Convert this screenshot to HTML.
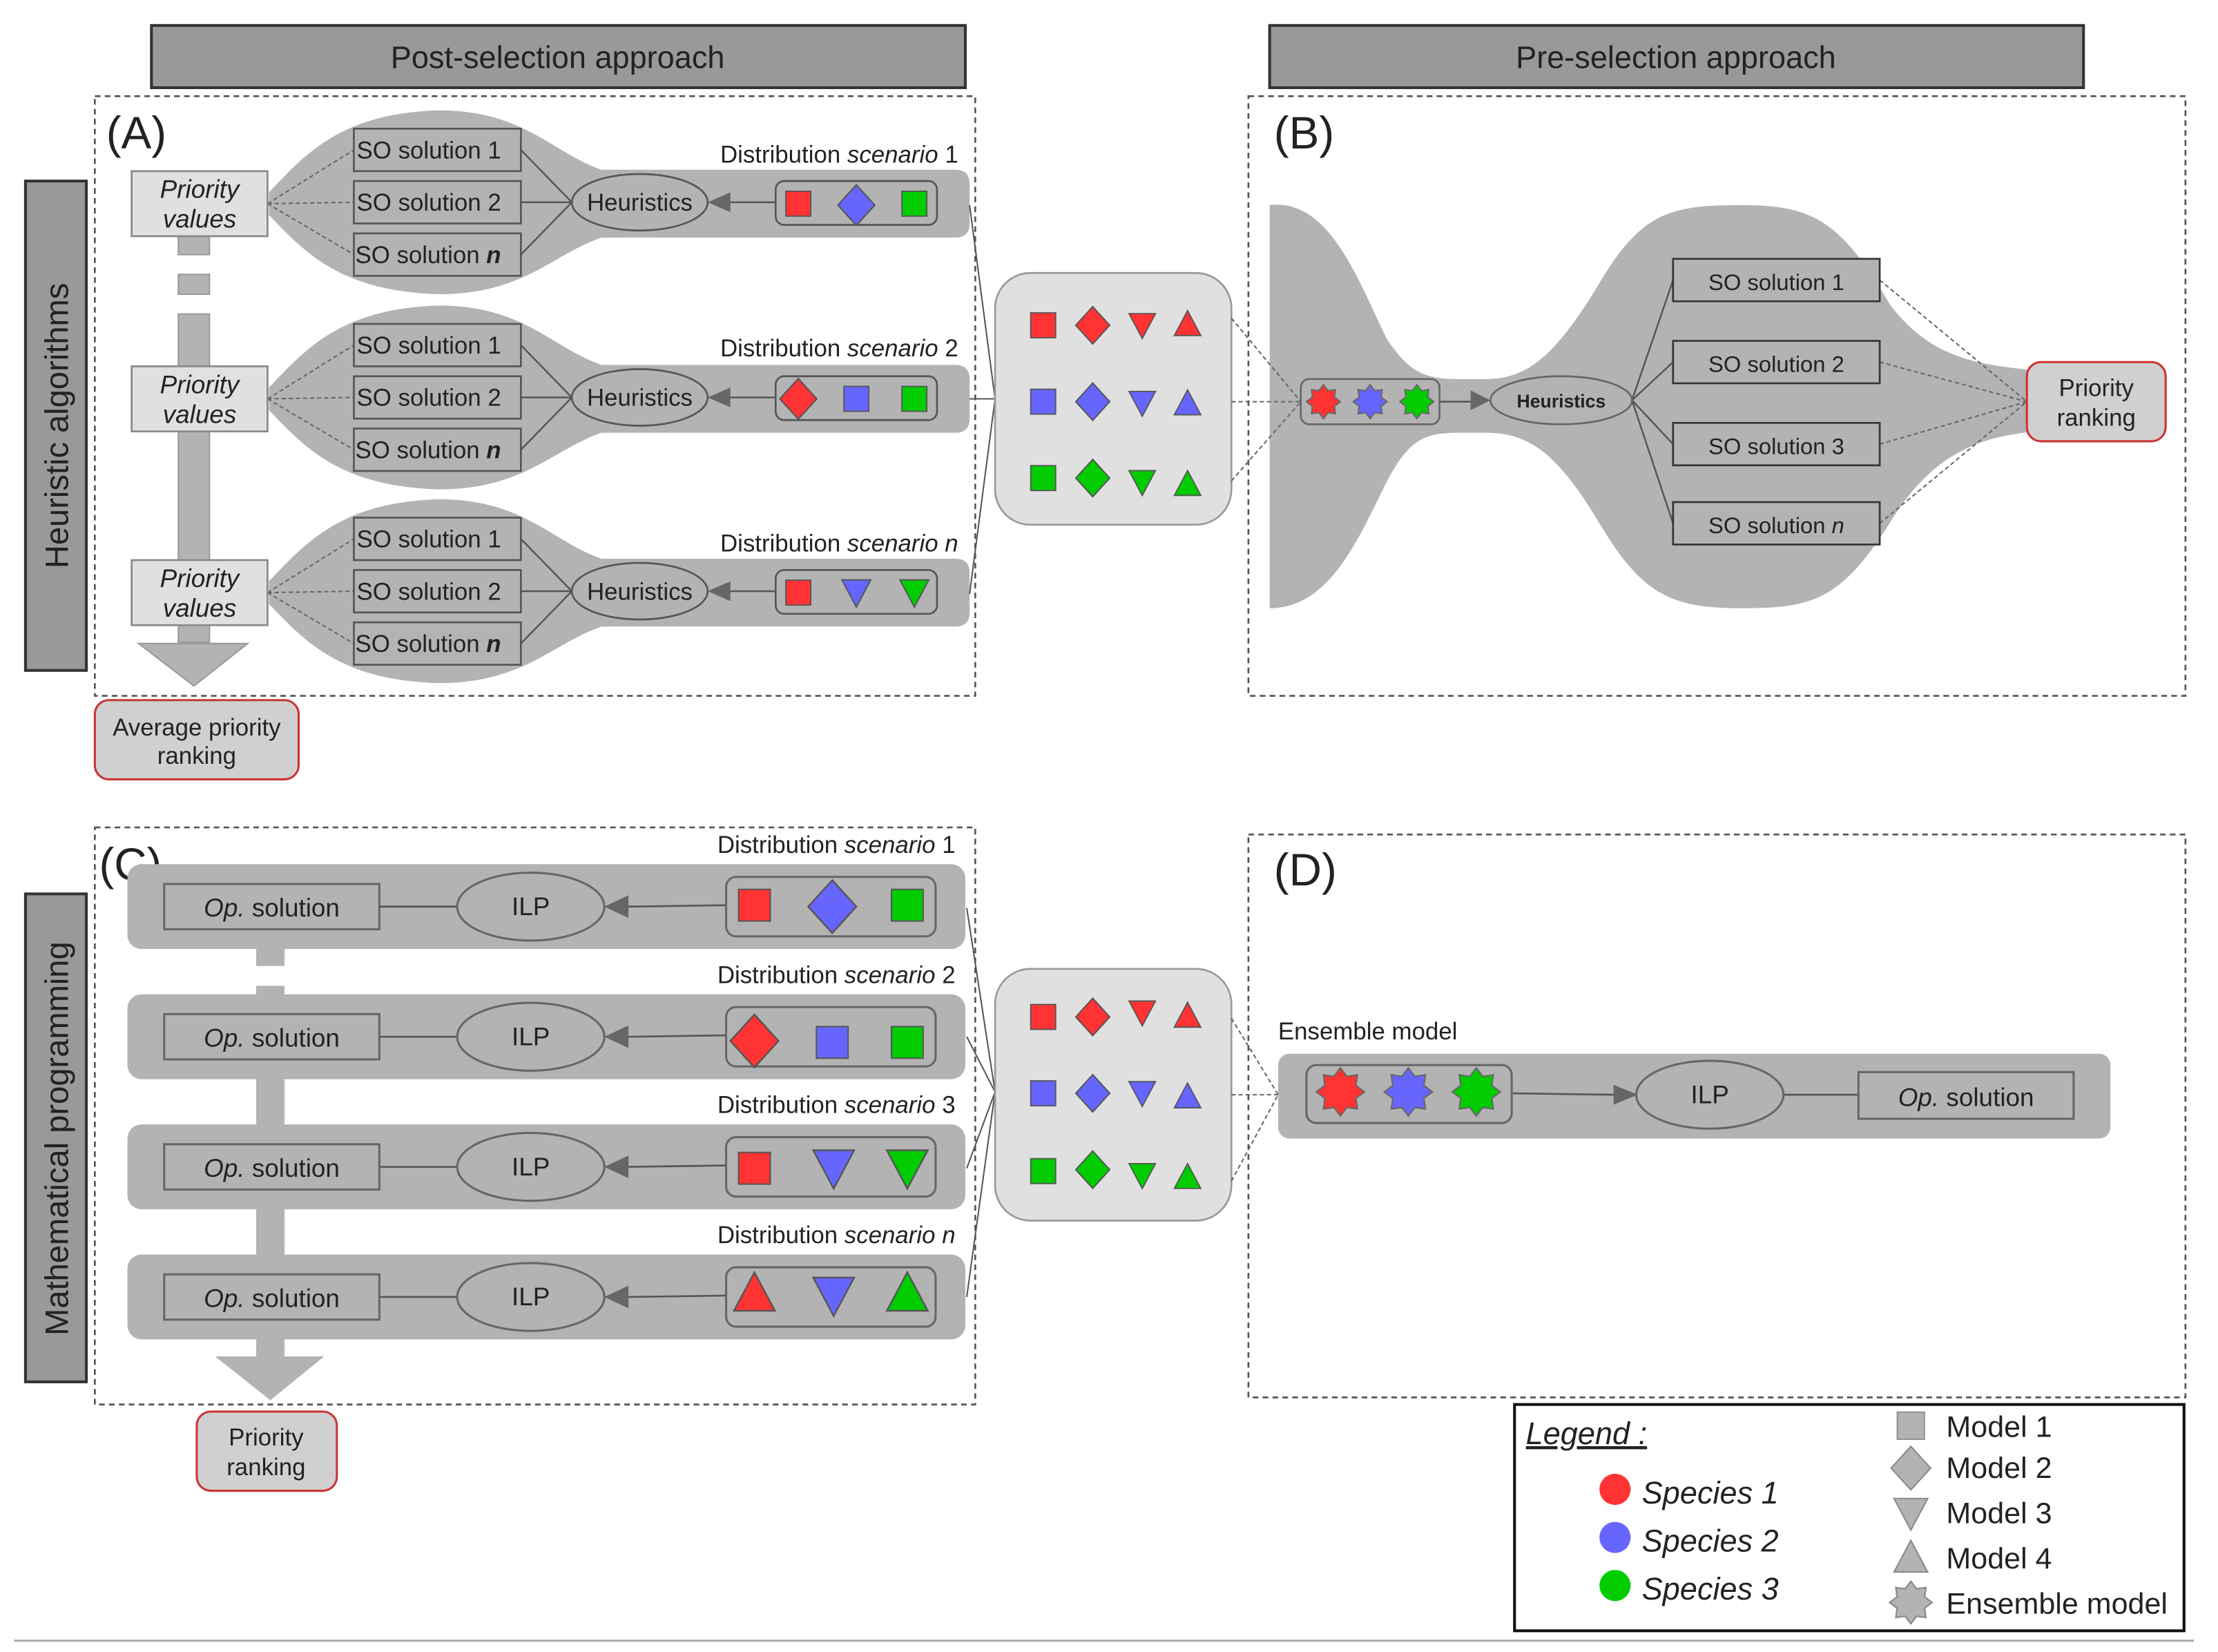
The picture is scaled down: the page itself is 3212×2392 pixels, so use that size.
<!DOCTYPE html>
<html><head><meta charset="utf-8"><style>
html,body{margin:0;padding:0;background:#fff;}
svg{display:block;}
text{font-family:"Liberation Sans",sans-serif;fill:#222;}
</style></head><body>
<svg width="3212" height="2392" viewBox="0 0 1567 1168" preserveAspectRatio="none" xmlns="http://www.w3.org/2000/svg">
<defs>
<rect id="sq" x="-0.8" y="-0.8" width="1.6" height="1.6"/>
<polygon id="dm" points="0,-1.1 1,0 0,1.1 -1,0"/>
<polygon id="td" points="-0.85,-0.75 0.85,-0.75 0,0.85"/>
<polygon id="tu" points="-0.85,0.75 0.85,0.75 0,-0.85"/>
<polygon id="st" points="0,-1 0.268,-0.647 0.707,-0.707 0.647,-0.268 1,0 0.647,0.268 0.707,0.707 0.268,0.647 0,1 -0.268,0.647 -0.707,0.707 -0.647,0.268 -1,0 -0.647,-0.268 -0.707,-0.707 -0.268,-0.647"/>
</defs>
<rect x="0" y="0" width="1567" height="1168" fill="#fff"/>

<rect x="107" y="18" width="575" height="44" fill="#999" stroke="#333" stroke-width="2"/>
<text x="394" y="48" font-size="22" text-anchor="middle">Post-selection approach</text>
<rect x="897" y="18" width="575" height="44" fill="#999" stroke="#333" stroke-width="2"/>
<text x="1184" y="48" font-size="22" text-anchor="middle">Pre-selection approach</text>

<rect x="18" y="128" width="43" height="346" fill="#999" stroke="#333" stroke-width="2"/>
<text transform="translate(48,301) rotate(-90)" font-size="23" text-anchor="middle">Heuristic algorithms</text>
<rect x="18" y="632" width="43" height="345" fill="#999" stroke="#333" stroke-width="2"/>
<text transform="translate(48,805) rotate(-90)" font-size="23" text-anchor="middle">Mathematical programming</text>

<g fill="none" stroke="#555" stroke-width="1.3" stroke-dasharray="4,3">
<rect x="67" y="68" width="622" height="424"/>
<rect x="882" y="68" width="662" height="424"/>
<rect x="67" y="585" width="622" height="408"/>
<rect x="882" y="590" width="662" height="398"/>
</g>
<text x="75" y="105" font-size="32">(A)</text>
<text x="900" y="105" font-size="32">(B)</text>
<text x="70" y="622" font-size="32">(C)</text>
<text x="900" y="626" font-size="32">(D)</text>

<g fill="#b3b3b3" stroke="#999" stroke-width="1">
<rect x="126" y="167" width="22" height="13"/>
<rect x="126" y="194" width="22" height="14"/>
<rect x="126" y="222" width="22" height="232"/>
<polygon points="98,455 175,455 137,485"/>
</g>

<g id="rowA1">
<path d="M190,136 C215,110 240,80 310,78 C370,78 390,108 425,120 L675,120 Q685,120 685,130 L685,158 Q685,168 675,168 L425,168 C390,180 370,208 310,208 C240,206 215,178 190,152 Z" fill="#b3b3b3"/>
<g stroke="#666" stroke-width="1" stroke-dasharray="3,2" fill="none">
<line x1="189" y1="144" x2="250" y2="106"/><line x1="189" y1="144" x2="250" y2="143"/><line x1="189" y1="144" x2="250" y2="180"/>
</g>
<g stroke="#555" stroke-width="1.2" fill="none">
<line x1="368" y1="106" x2="404" y2="143"/><line x1="368" y1="143" x2="404" y2="143"/><line x1="368" y1="180" x2="404" y2="143"/>
<line x1="548" y1="143" x2="515" y2="143"/>
</g>
<polygon points="500,143 516,136 516,150" fill="#666"/>
<g fill="#b3b3b3" stroke="#555" stroke-width="1.3">
<rect x="250" y="91" width="118" height="30"/><rect x="250" y="128" width="118" height="30"/><rect x="250" y="165" width="118" height="30"/>
<ellipse cx="452" cy="143" rx="48" ry="20"/>
<rect x="548" y="128" width="114" height="31" rx="6"/>
</g>
<text x="252" y="112" font-size="17">SO solution 1</text>
<text x="252" y="149" font-size="17">SO solution 2</text>
<text x="251" y="186" font-size="17">SO solution <tspan font-weight="bold" font-style="italic">n</tspan></text>
<text x="452" y="149" font-size="17" text-anchor="middle">Heuristics</text>
<rect x="93" y="121" width="96" height="46" fill="#e0e0e0" stroke="#888" stroke-width="1.3"/>
<text x="141" y="140" font-size="18" font-style="italic" text-anchor="middle">Priority</text>
<text x="141" y="161" font-size="18" font-style="italic" text-anchor="middle">values</text>
<text x="677" y="115" font-size="17" text-anchor="end">Distribution <tspan font-style="italic">scenario</tspan> 1</text>
</g>
<use href="#rowA1" transform="translate(0,138)"/>
<use href="#rowA1" transform="translate(0,275)"/>
<rect x="480" y="237" width="205" height="20" fill="#fff"/>
<text x="677" y="252" font-size="17" text-anchor="end">Distribution <tspan font-style="italic">scenario</tspan> 2</text>
<rect x="480" y="374" width="205" height="20" fill="#fff"/>
<text x="677" y="390" font-size="17" text-anchor="end">Distribution <tspan font-style="italic">scenario n</tspan></text>
<rect x="552" y="268" width="106" height="25" fill="#b3b3b3"/>
<rect x="552" y="405" width="106" height="25" fill="#b3b3b3"/>

<g stroke="#555" stroke-width="0.08">
<use href="#sq" transform="translate(564,144) scale(11)" fill="#f33"/>
<use href="#dm" transform="translate(605,145) scale(13)" fill="#66f"/>
<use href="#sq" transform="translate(646,144) scale(11)" fill="#0c0"/>
<use href="#dm" transform="translate(564,282) scale(13)" fill="#f33"/>
<use href="#sq" transform="translate(605,282) scale(11)" fill="#66f"/>
<use href="#sq" transform="translate(646,282) scale(11)" fill="#0c0"/>
<use href="#sq" transform="translate(564,419) scale(11)" fill="#f33"/>
<use href="#td" transform="translate(605,419) scale(12)" fill="#66f"/>
<use href="#td" transform="translate(646,419) scale(12)" fill="#0c0"/>
</g>

<rect x="67" y="495" width="144" height="56" rx="10" fill="#d0d0d0" stroke="#c33" stroke-width="1.5"/>
<text x="139" y="520" font-size="17" text-anchor="middle">Average priority</text>
<text x="139" y="540" font-size="17" text-anchor="middle">ranking</text>

<g stroke="#555" stroke-width="1" fill="none">
<line x1="685" y1="145" x2="703" y2="282"/><line x1="685" y1="282" x2="703" y2="282"/><line x1="685" y1="420" x2="703" y2="282"/>
</g>
<rect x="703" y="193" width="167" height="178" rx="25" fill="#e0e0e0" stroke="#999" stroke-width="1.3"/>
<g stroke="#555" stroke-width="0.08">
<use href="#sq" transform="translate(737,230) scale(11)" fill="#f33"/>
<use href="#dm" transform="translate(772,230) scale(12)" fill="#f33"/>
<use href="#td" transform="translate(807,230) scale(11)" fill="#f33"/>
<use href="#tu" transform="translate(839,229) scale(11)" fill="#f33"/>
<use href="#sq" transform="translate(737,284) scale(11)" fill="#66f"/>
<use href="#dm" transform="translate(772,284) scale(12)" fill="#66f"/>
<use href="#td" transform="translate(807,285) scale(11)" fill="#66f"/>
<use href="#tu" transform="translate(839,285) scale(11)" fill="#66f"/>
<use href="#sq" transform="translate(737,338) scale(11)" fill="#0c0"/>
<use href="#dm" transform="translate(772,338) scale(12)" fill="#0c0"/>
<use href="#td" transform="translate(807,341) scale(11)" fill="#0c0"/>
<use href="#tu" transform="translate(839,342) scale(11)" fill="#0c0"/>
</g>

<path d="M897,145 C940,140 960,200 980,240 C995,262 1005,268 1030,268 L1050,268 C1080,268 1100,250 1130,200 C1160,150 1180,145 1230,145 C1280,145 1300,155 1335,215 C1365,255 1400,258 1440,262 L1440,305 C1400,308 1365,320 1335,370 C1300,425 1280,430 1230,430 C1180,430 1160,420 1130,370 C1100,320 1080,306 1050,306 L1030,306 C1005,306 995,312 980,340 C960,380 940,430 897,430 Z" fill="#b3b3b3"/>
<g stroke="#666" stroke-width="1" stroke-dasharray="3,2" fill="none">
<line x1="870" y1="225" x2="919" y2="284"/><line x1="870" y1="284" x2="919" y2="284"/><line x1="870" y1="340" x2="919" y2="284"/>
<line x1="1328" y1="198" x2="1432" y2="284"/><line x1="1328" y1="256" x2="1432" y2="284"/><line x1="1328" y1="314" x2="1432" y2="284"/><line x1="1328" y1="370" x2="1432" y2="284"/>
</g>
<g stroke="#555" stroke-width="1.2" fill="none">
<line x1="1153" y1="283" x2="1182" y2="198"/><line x1="1153" y1="283" x2="1182" y2="256"/><line x1="1153" y1="283" x2="1182" y2="314"/><line x1="1153" y1="283" x2="1182" y2="370"/>
<line x1="1017" y1="284" x2="1040" y2="284"/>
</g>
<polygon points="1053,283 1039,276 1039,290" fill="#666"/>
<g fill="#b3b3b3" stroke="#333" stroke-width="1.3">
<rect x="1182" y="183" width="146" height="30"/><rect x="1182" y="241" width="146" height="30"/><rect x="1182" y="299" width="146" height="30"/><rect x="1182" y="355" width="146" height="30"/>
<ellipse cx="1103" cy="283" rx="50" ry="17" stroke="#666"/>
<rect x="919" y="268" width="98" height="32" rx="6" stroke="#666"/>
</g>
<g font-size="16" text-anchor="middle">
<text x="1255" y="205">SO solution 1</text><text x="1255" y="263">SO solution 2</text><text x="1255" y="321">SO solution 3</text><text x="1255" y="377">SO solution <tspan font-style="italic">n</tspan></text>
</g>
<text x="1103" y="288" font-size="13" font-weight="bold" text-anchor="middle" fill="#333">Heuristics</text>
<g stroke="#666" stroke-width="0.08">
<use href="#st" transform="translate(935,284) scale(12)" fill="#f33"/>
<use href="#st" transform="translate(968,284) scale(12)" fill="#66f"/>
<use href="#st" transform="translate(1001,284) scale(12)" fill="#0c0"/>
</g>
<rect x="1432" y="256" width="98" height="56" rx="10" fill="#d0d0d0" stroke="#c33" stroke-width="1.5"/>
<text x="1481" y="280" font-size="17" text-anchor="middle">Priority</text>
<text x="1481" y="301" font-size="17" text-anchor="middle">ranking</text>

<g fill="#b3b3b3">
<rect x="181" y="670" width="20" height="13"/>
<rect x="181" y="697" width="20" height="8"/>
<rect x="181" y="760" width="20" height="40"/>
<rect x="181" y="852" width="20" height="40"/>
<rect x="181" y="944" width="20" height="16"/>
<polygon points="152,959 229,959 191,990"/>
</g>
<g id="rowC">
<rect x="90" y="611" width="592" height="60" rx="10" fill="#b3b3b3"/>
<g stroke="#555" stroke-width="1.3" fill="none">
<line x1="268" y1="641" x2="323" y2="641"/><line x1="513" y1="640" x2="444" y2="641"/>
</g>
<polygon points="427,641 444,633 444,649" fill="#666"/>
<g fill="#b3b3b3" stroke="#666" stroke-width="1.5">
<rect x="116" y="625" width="152" height="32"/>
<ellipse cx="375" cy="641" rx="52" ry="24"/>
<rect x="513" y="620" width="148" height="42" rx="7"/>
</g>
<text x="192" y="648" font-size="18" text-anchor="middle"><tspan font-style="italic">Op.</tspan> solution</text>
<text x="375" y="647" font-size="18" text-anchor="middle">ILP</text>
</g>
<use href="#rowC" transform="translate(0,92)"/>
<use href="#rowC" transform="translate(0,184)"/>
<use href="#rowC" transform="translate(0,276)"/>
<g font-size="17" text-anchor="end">
<text x="675" y="603">Distribution <tspan font-style="italic">scenario</tspan> 1</text>
<text x="675" y="695">Distribution <tspan font-style="italic">scenario</tspan> 2</text>
<text x="675" y="787">Distribution <tspan font-style="italic">scenario</tspan> 3</text>
<text x="675" y="879">Distribution <tspan font-style="italic">scenario n</tspan></text>
</g>
<g stroke="#555" stroke-width="0.07">
<use href="#sq" transform="translate(533,640) scale(14)" fill="#f33"/>
<use href="#dm" transform="translate(588,641) scale(17)" fill="#66f"/>
<use href="#sq" transform="translate(641,640) scale(14)" fill="#0c0"/>
<use href="#dm" transform="translate(533,736) scale(17)" fill="#f33"/>
<use href="#sq" transform="translate(588,737) scale(14)" fill="#66f"/>
<use href="#sq" transform="translate(641,737) scale(14)" fill="#0c0"/>
<use href="#sq" transform="translate(533,826) scale(14)" fill="#f33"/>
<use href="#td" transform="translate(589,826) scale(17)" fill="#66f"/>
<use href="#td" transform="translate(641,826) scale(17)" fill="#0c0"/>
<use href="#tu" transform="translate(533,914) scale(17)" fill="#f33"/>
<use href="#td" transform="translate(589,916) scale(17)" fill="#66f"/>
<use href="#tu" transform="translate(641,914) scale(17)" fill="#0c0"/>
</g>
<rect x="139" y="998" width="99" height="56" rx="10" fill="#d0d0d0" stroke="#c33" stroke-width="1.5"/>
<text x="188" y="1022" font-size="17" text-anchor="middle">Priority</text>
<text x="188" y="1043" font-size="17" text-anchor="middle">ranking</text>

<g stroke="#555" stroke-width="1" fill="none">
<line x1="683" y1="642" x2="703" y2="772"/><line x1="683" y1="733" x2="703" y2="772"/><line x1="683" y1="826" x2="703" y2="772"/><line x1="683" y1="917" x2="703" y2="772"/>
</g>
<rect x="703" y="685" width="167" height="178" rx="25" fill="#e0e0e0" stroke="#999" stroke-width="1.3"/>
<g stroke="#555" stroke-width="0.08">
<use href="#sq" transform="translate(737,719) scale(11)" fill="#f33"/>
<use href="#dm" transform="translate(772,719) scale(12)" fill="#f33"/>
<use href="#td" transform="translate(807,716) scale(11)" fill="#f33"/>
<use href="#tu" transform="translate(839,718) scale(11)" fill="#f33"/>
<use href="#sq" transform="translate(737,773) scale(11)" fill="#66f"/>
<use href="#dm" transform="translate(772,773) scale(12)" fill="#66f"/>
<use href="#td" transform="translate(807,773) scale(11)" fill="#66f"/>
<use href="#tu" transform="translate(839,775) scale(11)" fill="#66f"/>
<use href="#sq" transform="translate(737,828) scale(11)" fill="#0c0"/>
<use href="#dm" transform="translate(772,827) scale(12)" fill="#0c0"/>
<use href="#td" transform="translate(807,831) scale(11)" fill="#0c0"/>
<use href="#tu" transform="translate(839,832) scale(11)" fill="#0c0"/>
</g>

<g stroke="#666" stroke-width="1" stroke-dasharray="3,2" fill="none">
<line x1="870" y1="720" x2="903" y2="774"/><line x1="870" y1="774" x2="903" y2="774"/><line x1="870" y1="835" x2="903" y2="774"/>
</g>
<text x="903" y="735" font-size="17">Ensemble model</text>
<rect x="903" y="745" width="588" height="60" rx="8" fill="#b3b3b3"/>
<g stroke="#555" stroke-width="1.3" fill="none">
<line x1="1068" y1="773" x2="1140" y2="774"/><line x1="1260" y1="774" x2="1313" y2="774"/>
</g>
<polygon points="1157,774 1140,767 1140,781" fill="#666"/>
<g fill="#b3b3b3" stroke="#666" stroke-width="1.5">
<rect x="923" y="753" width="145" height="41" rx="7"/>
<ellipse cx="1208" cy="774" rx="52" ry="24"/>
<rect x="1313" y="758" width="152" height="33"/>
</g>
<text x="1208" y="780" font-size="18" text-anchor="middle">ILP</text>
<text x="1389" y="782" font-size="18" text-anchor="middle"><tspan font-style="italic">Op.</tspan> solution</text>
<g stroke="#666" stroke-width="0.06">
<use href="#st" transform="translate(947,772) scale(17)" fill="#f33"/>
<use href="#st" transform="translate(995,772) scale(17)" fill="#66f"/>
<use href="#st" transform="translate(1043,772) scale(17)" fill="#0c0"/>
</g>

<rect x="1070" y="993" width="473" height="160" fill="#fff" stroke="#111" stroke-width="2"/>
<text x="1078" y="1021" font-size="22" font-style="italic" text-decoration="underline">Legend :</text>
<circle cx="1141" cy="1053" r="11" fill="#f33"/>
<circle cx="1141" cy="1087" r="11" fill="#66f"/>
<circle cx="1141" cy="1121" r="11" fill="#0c0"/>
<g font-size="22" font-style="italic">
<text x="1160" y="1063">Species 1</text><text x="1160" y="1097">Species 2</text><text x="1160" y="1131">Species 3</text>
</g>
<g fill="#b3b3b3" stroke="#888" stroke-width="0.07">
<use href="#sq" transform="translate(1350,1008) scale(12)"/>
<use href="#dm" transform="translate(1350,1038) scale(14)"/>
<use href="#td" transform="translate(1350,1070) scale(14)"/>
<use href="#tu" transform="translate(1350,1101) scale(14)"/>
<use href="#st" transform="translate(1350,1133) scale(15)"/>
</g>
<g font-size="21">
<text x="1375" y="1016">Model 1</text><text x="1375" y="1045">Model 2</text><text x="1375" y="1077">Model 3</text><text x="1375" y="1109">Model 4</text><text x="1375" y="1141">Ensemble model</text>
</g>
<line x1="10" y1="1160" x2="1550" y2="1160" stroke="#aaa" stroke-width="1.5"/>
</svg>
</body></html>
